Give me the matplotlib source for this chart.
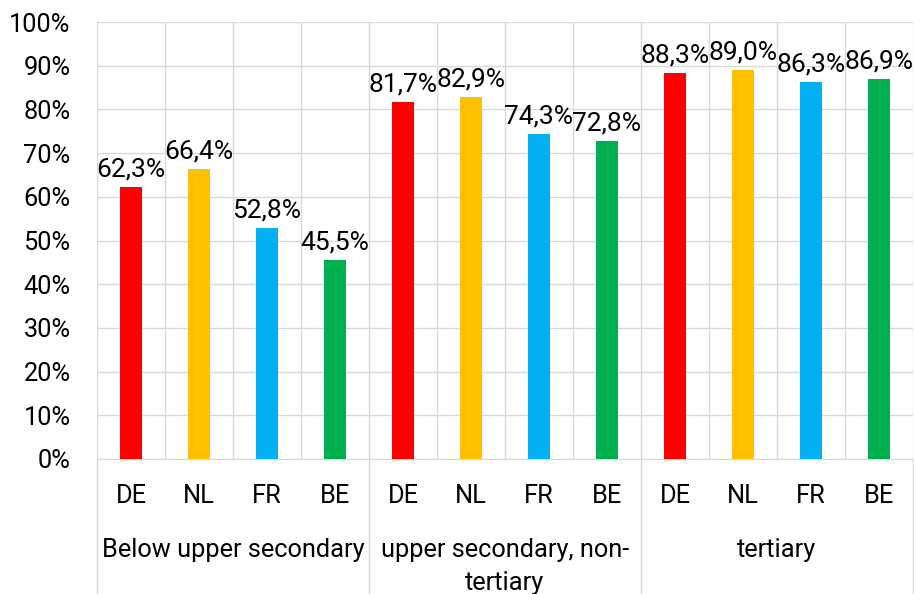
import matplotlib.pyplot as plt
from matplotlib.lines import Line2D

plt.rcParams.update({
    "font.family": ["Roboto", "DejaVu Sans"],
    "font.size": 18.3,
})

countries = ["DE", "NL", "FR", "BE"]
groups = ["Below upper secondary", "upper secondary, non-\ntertiary", "tertiary"]
values = [
    [62.3, 66.4, 52.8, 45.5],
    [81.7, 82.9, 74.3, 72.8],
    [88.3, 89.0, 86.3, 86.9],
]
bar_colors = ["#FF0000", "#FFC000", "#00B0F0", "#00B050"]
GRID = "#D9D9D9"

W, H = 914, 594
fig = plt.figure(figsize=(W / 100, H / 100), dpi=100)
left, right, top, bottom = 97, 913, 22, 459
ax = fig.add_axes([left / W, 1 - bottom / H, (right - left) / W, (bottom - top) / H])

n = len(countries)
for g, vals in enumerate(values):
    for i, v in enumerate(vals):
        x = g * n + i
        ax.bar(x, v, width=0.32, color=bar_colors[i], zorder=3)
        ax.annotate(f"{v:.1f}%".replace(".", ","), (x, v), xytext=(0, 4),
                    textcoords="offset points", ha="center", va="bottom",
                    fontsize=19, color="black")

total = n * len(groups)
ax.set_xlim(-0.5, total - 0.5)
ax.set_ylim(0, 100)
ax.set_yticks(range(0, 101, 10))
ax.set_yticklabels([f"{t}%" for t in range(0, 101, 10)])
ax.set_xticks(range(total))
ax.set_xticklabels(countries * len(groups))
ax.set_xticks([k - 0.5 for k in range(total + 1)], minor=True)
ax.tick_params(axis="both", length=0, labelsize=18.3)
ax.tick_params(axis="y", pad=19)
ax.tick_params(axis="x", which="major", pad=18)
ax.tick_params(axis="x", which="minor", length=0)
ax.grid(axis="y", color=GRID, linewidth=1, zorder=0)
ax.grid(axis="x", which="minor", color=GRID, linewidth=1, zorder=0)
for s in ["top", "right", "left"]:
    ax.spines[s].set_visible(False)
ax.spines["bottom"].set_color(GRID)

# group separators running through the label area
ext = -(H - bottom) / (bottom - top)
for g in range(len(groups) + 1):
    xa = (g * n) / total
    ax.add_line(Line2D([xa, xa], [0, ext], transform=ax.transAxes,
                       color=GRID, linewidth=1, clip_on=False))

for g, name in enumerate(groups):
    xa = (g * n + n / 2) / total
    ax.text(xa, -(538 - bottom) / (bottom - top), name, transform=ax.transAxes,
            ha="center", va="top", linespacing=1.45)

fig.savefig("out.png", dpi=100)
